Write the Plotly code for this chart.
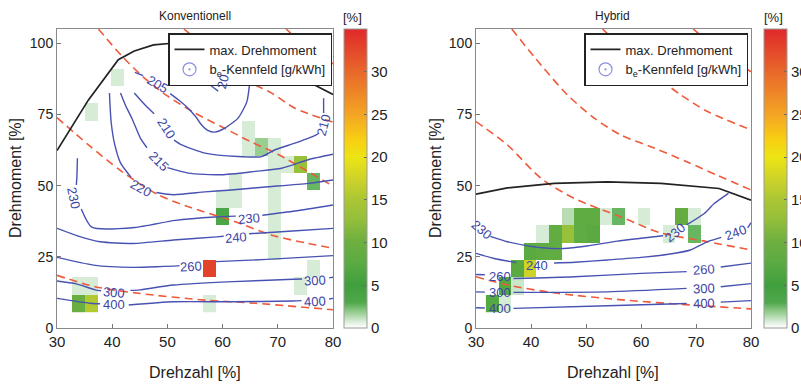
import numpy as np
import plotly.graph_objects as go

FONT = "Liberation Sans, Arial, Helvetica, sans-serif"
W, H = 801, 387

# ---------------- data: operating-point share cells [%] ----------------
conv_cell_speed = [41.0, 36.28, 64.6, 64.6, 66.96, 69.32, 69.32, 69.32, 69.32, 69.32, 69.32, 69.32,
                   71.68, 74.04, 76.4, 62.24, 62.24, 59.88, 59.88, 57.52, 57.52, 76.4, 74.04,
                   33.92, 36.28, 33.92, 36.28]
conv_cell_torque = [88.05, 75.85, 69.75, 63.65, 63.65, 63.65, 57.55, 51.45, 45.35, 39.25, 33.15, 27.05,
                    57.55, 57.55, 51.45, 51.45, 45.35, 45.35, 39.25, 20.95, 8.75, 20.95, 14.85,
                    14.85, 14.85, 8.75, 8.75]
conv_cell_share = [0.8, 0.8, 0.8, 0.8, 1.8, 0.8, 0.8, 0.8, 0.8, 0.8, 0.8, 0.8,
                   0.8, 13.0, 2.6, 0.8, 0.8, 0.8, 3.5, 33.0, 0.8, 0.8, 0.8,
                   0.8, 0.8, 9.5, 15.5]

hyb_cell_speed = [46.75, 49.05, 51.35, 53.65, 55.95, 60.55, 67.45, 69.75,
                  42.15, 44.45, 46.75, 49.05, 51.35, 65.15, 69.75,
                  39.85, 42.15, 44.45, 37.55, 39.85, 35.25, 37.55, 32.95, 35.25]
hyb_cell_torque = [39.25, 39.25, 39.25, 39.25, 39.25, 39.25, 39.25, 39.25,
                   33.15, 33.15, 33.15, 33.15, 33.15, 33.15, 33.15,
                   27.05, 27.05, 27.05, 20.95, 20.95, 14.85, 14.85, 8.75, 8.75]
hyb_cell_share = [1.3, 8.0, 8.0, 0.8, 2.6, 0.8, 9.0, 0.8,
                  0.8, 8.5, 13.0, 8.0, 7.5, 0.8, 2.6,
                  7.5, 8.0, 8.5, 7.5, 17.5, 7.0, 1.0, 7.0, 0.8]

# ---------------- data: max torque curves ----------------
conv_max_speed = [30, 35.7, 41.1, 44.0, 47.5, 50.8, 55, 60, 65, 70, 73.6, 80]
conv_max_torque = [62.3, 80.1, 94.2, 97.3, 99.4, 100.0, 100.3, 99.5, 96.3, 91.5, 88.4, 82.0]
hyb_max_speed = [30, 35.7, 44.2, 53.9, 63.6, 74.2, 80]
hyb_max_torque = [47.0, 49.2, 50.8, 51.3, 50.8, 49.0, 44.9]

# ---------------- data: power lines (red dashed) ----------------
conv_p1 = ([30, 36.9, 44.7, 56.8, 65.9, 80], [18.5, 14.5, 12.2, 9.8, 8.7, 6.4])
conv_p2 = ([30, 35.7, 41.7, 48.4, 53.8, 62.0, 68.9, 75.5, 80], [73.9, 64.3, 55.0, 46.7, 42.6, 37.5, 32.6, 29.7, 28.0])
conv_p3 = ([37.5, 42, 46, 50, 55, 60, 65, 70, 75, 80], [105, 95, 87.5, 81.5, 75.5, 70.5, 65.5, 61, 55.5, 49.8])
conv_p4 = ([53, 57, 61, 65.3, 68.9, 73.1, 80], [105, 98.5, 92, 86.0, 82.5, 77.2, 72.3])
conv_p5 = ([71.5, 75.5, 80], [105, 98.2, 92.8])
hyb_p1 = ([30, 35.7, 44.8, 57.0, 69.0, 80], [18.0, 15.1, 12.2, 9.8, 8.1, 6.7])
hyb_p2 = ([30, 35.7, 41.8, 47.9, 57.0, 63.6, 72.1, 80], [72.5, 64.3, 52.6, 45.5, 38.5, 33.4, 30.3, 27.4])
hyb_p3 = ([36.5, 41.8, 46.6, 51.5, 56.3, 62.4, 68.4, 74, 80], [105, 92.4, 81.9, 73.7, 67.8, 63.2, 58.3, 53.5, 48.5])
hyb_p4 = ([53, 58, 62.4, 67.2, 72.1, 80], [105, 96, 88.9, 81.9, 76.0, 69.6])
hyb_p5 = ([69.5, 74.5, 80], [105, 97, 90.0])

# ---------------- data: b_e contour lines [g/kWh] (None = label gap) ----------------
conv_be_200 = ([55.6, 57.5, 59.2, None, 60.9, 61.0], [89.5, 85.8, 83.2, None, 89.0, 92.0])
conv_be_205 = ([44.1, 45.6, None, 50.5, 52.2, 53.8, 55.2, 56.2, 57.4, 58.6, 60.4, 62.8, 64.4, 65.0, 65.2],
               [89.8, 88.6, None, 82.3, 79.8, 77.1, 74.0, 71.3, 69.3, 68.8, 70.2, 73.7, 79.5, 87.7, 92.0])
conv_be_210 = ([44.0, 46.0, 47.6, None, 51.2, 52.6, 56.8, 62.8, 67.1, 69.5, 73.1, 76.0, 77.3, None, 78.3, 78.3],
               [82.5, 78.2, 75.2, None, 66.0, 64.3, 61.4, 60.2, 60.2, 62.6, 64.9, 67.0, 68.2, None, 75.5, 80.7])
conv_be_215 = ([41.5, 42.4, 43.6, 45.1, 46.3, None, 50.0, 53.8, 59.8, 65.9, 70.7, 75.5, 80],
               [82.5, 78.2, 73.5, 66.7, 63.3, None, 56.3, 54.4, 53.8, 55.0, 56.1, 59.1, 61.0])
conv_be_220 = ([39.5, 39.8, 40.4, 41.5, 43.4, None, 48.0, 51.1, 56.8, 61.0, 68.3, 75.5, 80],
               [82.5, 72.5, 64.9, 58.0, 53.0, None, 47.6, 46.8, 47.8, 48.4, 49.6, 50.8, 52.0])
conv_be_230 = ([33.7, 33.6, 33.5, None, 34.4, 36.3, 44.1, 51.4, 58.6, 62.4, None, 67.2, 73.1, 80],
               [59.6, 53.0, 50.2, None, 41.8, 35.4, 35.3, 37.8, 39.0, 39.3, None, 39.6, 41.1, 43.2])
conv_be_240 = ([30, 34, 37.8, 43.8, 51.1, 58.9, 60.2, None, 64.8, 72, 80],
               [35.0, 32.2, 30.3, 29.7, 30.9, 32.0, 32.2, None, 33.1, 34.0, 35.0])
conv_be_260 = ([30, 36.6, 43.8, 51.7, 52.2, None, 58.8, 68.0, 80],
               [24.8, 22.1, 21.3, 21.8, 21.9, None, 23.3, 24.1, 25.4])
conv_be_300 = ([30, 33.5, 36.9, 38.0, None, 43.3, 45, 51.1, 61.9, 72.8, 74.4, None, 79.3, 80],
               [16.5, 15.5, 13.4, 13.1, None, 13.2, 13.4, 15.1, 16.3, 17.1, 17.2, None, 17.6, 17.8])
conv_be_400 = ([30, 36.0, 37.8, None, 43.0, 51.1, 61.9, 72.8, 74.3, None, 79.3, 80],
               [10.4, 8.7, 8.5, None, 8.1, 9.2, 9.2, 9.5, 9.6, None, 10.2, 10.4])

hyb_be_230 = ([32.6, 35.7, 38.7, 42, 46, 50.2, 55.7, 60, 64.0, None, 68.3, 71.5, 73.3, 75.9],
              [32.2, 30.3, 29.1, 28.2, 27.9, 28.8, 30.5, 31.5, 32.4, None, 36.2, 40.2, 43.7, 47.3])
hyb_be_240 = ([30, 33.3, 37.3, None, 44.2, 48, 53.9, 60, 65, 69, 72.1, 74.6, None, 79.4, 80],
              [26.2, 24.4, 23.0, None, 22.8, 23.1, 23.9, 24.8, 25.9, 27.4, 30.3, 31.8, None, 35.2, 37.0])
hyb_be_260 = ([30, 31.6, None, 36.8, 47.9, 60, 68.3, None, 74.5, 80],
              [18.8, 18.7, None, 17.4, 18.0, 19.2, 19.8, None, 21.4, 22.8])
hyb_be_300 = ([30, 31.6, None, 36.8, 53.9, 68.3, None, 74.5, 80],
              [12.7, 12.6, None, 12.5, 12.7, 13.9, None, 14.5, 15.6])
hyb_be_400 = ([30, 31.6, None, 36.8, 53.9, 68.3, None, 74.5, 80],
              [7.1, 7.0, None, 6.9, 7.8, 8.6, None, 9.1, 9.6])

# contour labels
conv_lbl_text = ["205", "20", "210", "210", "215", "220", "230", "230", "240", "260", "300", "300", "400", "400"]
conv_lbl_x = [48.3, 60.1, 49.8, 78.4, 48.5, 45.3, 33.1, 64.8, 62.4, 54.2, 40.3, 76.8, 40.3, 76.8]
conv_lbl_y = [85.6, 86.5, 69.9, 71.3, 58.5, 49.0, 45.6, 38.6, 31.8, 21.6, 12.4, 16.8, 8.2, 9.4]
conv_lbl_ang = [30, -75, 57, -75, 45, 28, 78, -5, -5, -3, 5, -3, 0, -3]

hyb_lbl_text = ["230", "230", "240", "240", "260", "260", "300", "300", "400", "400"]
hyb_lbl_x = [31.0, 66.2, 41.0, 77.2, 34.4, 71.4, 34.4, 71.4, 34.4, 71.4]
hyb_lbl_y = [34.6, 33.6, 22.0, 33.4, 18.1, 20.4, 12.5, 14.0, 6.9, 8.7]
hyb_lbl_ang = [40, -40, 0, -20, 0, -4, 0, -3, 0, -2]

speed_ticks = [30, 40, 50, 60, 70, 80]
torque_ticks = [0, 25, 50, 75, 100]
share_ticks = [0, 5, 10, 15, 20, 25, 30]

# ---------------- styling / layout ----------------
def px_x(p):
    return p / W

def px_y(p):
    return 1 - p / H

COLORSCALE = [
    [0.0, "#ffffff"], [0.3 / 35, "#f3f9f3"], [0.8 / 35, "#d6ecd6"], [1.3 / 35, "#b8dcb4"],
    [2.0 / 35, "#8dc886"], [3.0 / 35, "#4fa84a"], [5.0 / 35, "#3f9f3d"], [8.0 / 35, "#5fac42"],
    [10.0 / 35, "#6cae40"], [13.0 / 35, "#98c03a"], [15.0 / 35, "#aac634"], [17.0 / 35, "#c8d02c"],
    [20.0 / 35, "#ece414"], [22.0 / 35, "#f8d012"], [25.0 / 35, "#f4a424"], [30.0 / 35, "#e8682a"],
    [1.0, "#e0282a"],
]

BIN_DY = 6.1
BIN_Y0 = 8.75
CONV_BIN = (31.56, 2.36)
HYB_BIN = (32.95, 2.3)
NX, NY = 22, 15


def grid(sx, sy, val, binx):
    x0, dx = binx
    z = np.full((NY, NX), np.nan)
    for a, b, v in zip(sx, sy, val):
        i = int(round((a - x0) / dx))
        j = int(round((b - BIN_Y0) / BIN_DY))
        z[j, i] = v
    return z, x0, dx


fig = go.Figure()

x_dom = {"x": [px_x(57), px_x(333)], "x2": [px_x(476), px_x(751)]}
y_dom = [px_y(328), px_y(29)]
cb_x = {"x": px_x(344), "x2": px_x(764)}

panels = [
    ("x", "y", "legend", (conv_cell_speed, conv_cell_torque, conv_cell_share, CONV_BIN),
     [conv_p1, conv_p2, conv_p3, conv_p4, conv_p5],
     [conv_be_200, conv_be_205, conv_be_210, conv_be_215, conv_be_220, conv_be_230,
      conv_be_240, conv_be_260, conv_be_300, conv_be_400],
     (conv_max_speed, conv_max_torque),
     (conv_lbl_text, conv_lbl_x, conv_lbl_y, conv_lbl_ang)),
    ("x2", "y2", "legend2", (hyb_cell_speed, hyb_cell_torque, hyb_cell_share, HYB_BIN),
     [hyb_p1, hyb_p2, hyb_p3, hyb_p4, hyb_p5],
     [hyb_be_230, hyb_be_240, hyb_be_260, hyb_be_300, hyb_be_400],
     (hyb_max_speed, hyb_max_torque),
     (hyb_lbl_text, hyb_lbl_x, hyb_lbl_y, hyb_lbl_ang)),
]

BLUE = "#4852b2"
LBLUE = "#3d45a6"
RED = "#ef5a3a"

for xa, ya, lg, cells, plines, contours, mx, lbls in panels:
    z, x0, dx = grid(*cells)
    fig.add_trace(go.Heatmap(
        z=z, x0=x0, dx=dx, y0=BIN_Y0, dy=BIN_DY, xaxis=xa, yaxis=ya,
        zmin=0, zmax=35, colorscale=COLORSCALE, hoverinfo="skip",
        colorbar=dict(x=cb_x[xa], xanchor="left", y=y_dom[0], yanchor="bottom",
                      len=y_dom[1] - y_dom[0], lenmode="fraction", thickness=23,
                      outlinecolor="#9a9a9a", outlinewidth=1, tickvals=share_ticks,
                      ticks="inside", ticklen=3, tickcolor="#666", xpad=0, ypad=0,
                      tickfont=dict(family=FONT, size=15, color="#222")),
    ))
    for px_, py_ in plines:
        fig.add_trace(go.Scatter(x=px_, y=py_, xaxis=xa, yaxis=ya, mode="lines",
                                 line=dict(color=RED, width=1.6, dash="8px,5px", shape="spline", smoothing=0.8),
                                 showlegend=False, hoverinfo="skip"))
    for cx, cy in contours:
        fig.add_trace(go.Scatter(x=cx, y=cy, xaxis=xa, yaxis=ya, mode="lines",
                                 line=dict(color=BLUE, width=1.4, shape="spline", smoothing=0.6),
                                 showlegend=False, hoverinfo="skip"))
    fig.add_trace(go.Scatter(x=mx[0], y=mx[1], xaxis=xa, yaxis=ya, mode="lines",
                             line=dict(color="#222222", width=1.7), name="max. Drehmoment",
                             legend=lg, showlegend=True, hoverinfo="skip"))
    fig.add_trace(go.Scatter(x=[None], y=[None], xaxis=xa, yaxis=ya, mode="markers",
                             marker=dict(symbol="circle-open-dot", size=13, color="#8c8fdc",
                                         line=dict(width=1.2, color="#8c8fdc")),
                             name="b<sub>e</sub>-Kennfeld [g/kWh]", legend=lg, showlegend=True))
    for t, lx, ly, ang in zip(*lbls):
        fig.add_annotation(x=lx, y=ly, xref=xa, yref=ya, text=t, showarrow=False,
                           textangle=ang, font=dict(family=FONT, size=13, color=LBLUE))

axis_common = dict(showline=True, linecolor="#8a8a8a", linewidth=1, mirror=True, automargin=False,
                   ticks="inside", ticklen=4, tickcolor="#777", showgrid=False, zeroline=False)

fig.update_layout(
    width=W, height=H, margin=dict(l=0, r=0, t=0, b=0, autoexpand=False),
    paper_bgcolor="white", plot_bgcolor="white",
    font=dict(family=FONT, color="#222"),
    xaxis=dict(domain=x_dom["x"], range=[30, 80], tickvals=speed_ticks, anchor="y",
               tickfont=dict(size=15), **axis_common),
    yaxis=dict(domain=y_dom, range=[0, 105], tickvals=torque_ticks, anchor="x",
               tickfont=dict(size=14), **axis_common),
    xaxis2=dict(domain=x_dom["x2"], range=[30, 80], tickvals=speed_ticks, anchor="y2",
                tickfont=dict(size=15), **axis_common),
    yaxis2=dict(domain=y_dom, range=[0, 105], tickvals=torque_ticks, anchor="x2",
                tickfont=dict(size=14), **axis_common),
    legend=dict(x=px_x(332), xanchor="right", y=px_y(33), yanchor="top",
                bgcolor="white", bordercolor="#222", borderwidth=1.5,
                font=dict(family=FONT, size=13, color="#222"), tracegroupgap=0),
    legend2=dict(x=px_x(748), xanchor="right", y=px_y(33), yanchor="top",
                 bgcolor="white", bordercolor="#222", borderwidth=1.5,
                 font=dict(family=FONT, size=13, color="#222"), tracegroupgap=0),
)

texts = [
    ("Konventionell", 195, 16, 12, 0),
    ("Hybrid", 612, 16, 12, 0),
    ("[%]", 352, 18, 13, 0),
    ("[%]", 773, 18, 13, 0),
    ("Drehzahl [%]", 195, 372, 16, 0),
    ("Drehzahl [%]", 613, 372, 16, 0),
    ("Drehmoment [%]", 15, 178, 16, -90),
    ("Drehmoment [%]", 435, 178, 16, -90),
]
for t, x, y, s, ang in texts:
    fig.add_annotation(x=px_x(x), y=px_y(y), xref="paper", yref="paper", text=t,
                       showarrow=False, textangle=ang, xanchor="center", yanchor="middle",
                       font=dict(family=FONT, size=s, color="#222"))

fig.write_html("out.html", config={"displayModeBar": False},
               post_script="document.body.style.margin='0px';document.body.style.overflow='hidden';")
